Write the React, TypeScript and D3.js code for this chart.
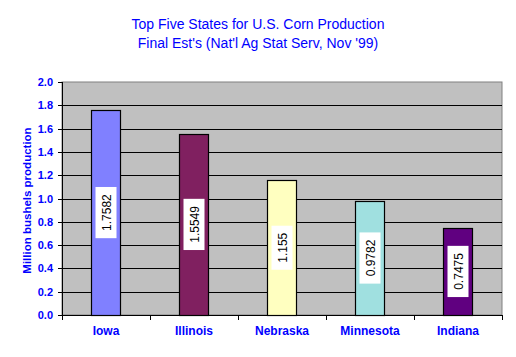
import React from 'react';
import * as d3 from 'd3';

const states = ['Iowa', 'Illinois', 'Nebraska', 'Minnesota', 'Indiana'];
const production = [1.7582, 1.5549, 1.155, 0.9782, 0.7475];
const labels = ['1.7582', '1.5549', '1.155', '0.9782', '0.7475'];
const colors = ['#8080FF', '#802060', '#FFFFC0', '#A0E0E0', '#600080'];
const yTicks = [0, 0.2, 0.4, 0.6, 0.8, 1.0, 1.2, 1.4, 1.6, 1.8, 2.0];

export default function App() {
  const W = 516;
  const H = 357;
  const left = 62, right = 502, top = 82, bottom = 315;

  const x = d3.scaleBand().domain(states).range([left, right]).paddingInner(0).paddingOuter(0);
  const y = d3.scaleLinear().domain([0, 2]).range([bottom, top]);
  const barW = x.bandwidth() * 0.33;
  const blue = '#0000FF';

  return (
    <div style={{ margin: -8 }}>
      <svg width={W} height={H} style={{ display: 'block', background: '#fff' }} fontFamily="Arial, 'Liberation Sans', sans-serif">
        {/* title */}
        <text x={258} y={29} textAnchor="middle" fontSize={14} fill={blue}>Top Five States for U.S. Corn Production</text>
        <text x={258} y={48} textAnchor="middle" fontSize={14} fill={blue}>Final Est's (Nat'l Ag Stat Serv, Nov '99)</text>

        {/* plot area */}
        <rect x={left} y={top} width={right - left} height={bottom - top} fill="#C0C0C0" stroke="#808080" />
        {yTicks.slice(1, -1).map(t => (
          <line key={t} x1={left} x2={right} y1={Math.round(y(t)) + 0.5} y2={Math.round(y(t)) + 0.5} stroke="#000" />
        ))}

        {/* bars */}
        {states.map((s, i) => {
          const cx = (x(s) as number) + x.bandwidth() / 2;
          const yt = y(production[i]);
          const mid = (yt + bottom) / 2;
          return (
            <g key={s}>
              <rect x={Math.round(cx - barW / 2) + 0.5} y={Math.round(yt) + 0.5} width={Math.round(barW)} height={bottom - Math.round(yt)}
                fill={colors[i]} stroke="#000" strokeWidth={1.2} />
              <rect x={cx - 10.5} y={mid - labels[i].length * 3.6 - 4} width={21} height={labels[i].length * 7.2 + 8} fill="#fff" />
              <text transform={`translate(${cx + 4.5},${mid}) rotate(-90)`} textAnchor="middle" fontSize={12} fill="#000">{labels[i]}</text>
            </g>
          );
        })}

        {/* axes */}
        <line x1={left + 0.5} x2={left + 0.5} y1={top} y2={bottom} stroke="#000" />
        <line x1={left} x2={right + 1} y1={bottom + 0.5} y2={bottom + 0.5} stroke="#000" />
        {yTicks.map(t => (
          <g key={t}>
            <line x1={left - 4} x2={left} y1={Math.round(y(t)) + 0.5} y2={Math.round(y(t)) + 0.5} stroke="#000" />
            <text x={53} y={y(t) + 4} textAnchor="end" fontSize={11} fontWeight="bold" fill={blue}>{t.toFixed(1)}</text>
          </g>
        ))}
        {[...states.map(s => x(s) as number), right].map((v, i) => (
          <line key={i} x1={Math.round(v) + 0.5} x2={Math.round(v) + 0.5} y1={bottom} y2={bottom + 5} stroke="#000" />
        ))}
        {states.map(s => (
          <text key={s} x={(x(s) as number) + x.bandwidth() / 2} y={335} textAnchor="middle" fontSize={12} fontWeight="bold" fill={blue}>{s}</text>
        ))}
        <text transform={`translate(31,${(top + bottom) / 2 + 2}) rotate(-90)`} textAnchor="middle" fontSize={11.5} fontWeight="bold" fill={blue}>Million bushels production</text>
      </svg>
    </div>
  );
}
